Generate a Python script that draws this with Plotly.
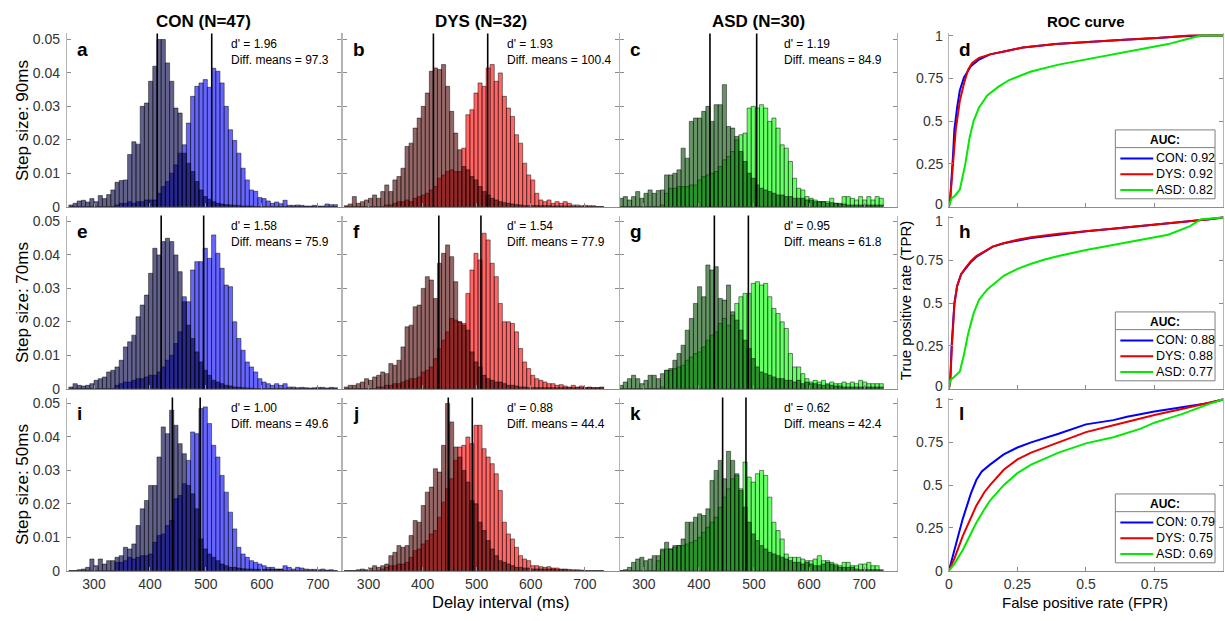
import plotly.graph_objects as go

W, H = 1225, 621

# ---------------- data ----------------
BIN_START, BIN_WIDTH, N_BINS = 255.0, 7.5, 64
bin_centers = [BIN_START + BIN_WIDTH * (i + 0.5) for i in range(N_BINS)]

groups = ["CON", "DYS", "ASD"]
group_n = [47, 32, 30]
steps = [90, 70, 50]
panel_letters = [["a", "b", "c", "d"], ["e", "f", "g", "h"], ["i", "j", "k", "l"]]

dprime = [["1.96", "1.93", "1.19"], ["1.58", "1.54", "0.95"], ["1.00", "0.88", "0.62"]]
diff_means = [["97.3", "100.4", "84.9"], ["75.9", "77.9", "61.8"], ["49.6", "44.4", "42.4"]]
mean_short = [[413.0, 420.0, 420.0], [420.0, 430.0, 428.0], [440.0, 447.5, 443.0]]
mean_long = [[510.3, 520.4, 504.9], [495.9, 507.9, 489.8], [489.6, 491.9, 485.4]]
auc = [["0.92", "0.92", "0.82"], ["0.88", "0.88", "0.77"], ["0.79", "0.75", "0.69"]]

hist_ticks = [300, 400, 500, 600, 700]
hist_yticks = [0, 0.01, 0.02, 0.03, 0.04, 0.05]
hist_yticktext = ["0", "0.01", "0.02", "0.03", "0.04", "0.05"]
roc_ticks = [0, 0.25, 0.5, 0.75, 1]
roc_ticktext = ["0", "0.25", "0.5", "0.75", "1"]

# histogram heights (probability per bin); "short" = darker series, "long" = bright series
con90_short = [0.0005, 0.001, 0.0017, 0.0019, 0.0014, 0.0024, 0.0015, 0.0033, 0.0024, 0.0036,
               0.005, 0.0073, 0.0078, 0.008, 0.0156, 0.0194, 0.0187, 0.030, 0.031, 0.0375,
               0.042, 0.050, 0.050, 0.043, 0.0375, 0.0295, 0.028, 0.016, 0.013, 0.0105,
               0.0075, 0.005, 0.003, 0.0022, 0.0015, 0.001, 0.0008, 0.0006, 0.0005, 0.0004,
               0.0003, 0.0002, 0.0002, 0.0002, 0, 0, 0, 0, 0, 0,
               0, 0, 0, 0, 0, 0, 0, 0, 0, 0,
               0, 0, 0, 0]
con90_long = [0, 0, 0, 0, 0, 0, 0, 0, 0, 0,
              0, 0.0005, 0.001, 0.001, 0.0015, 0.001, 0.0015, 0.0015, 0.002, 0.002,
              0.002, 0.004, 0.006, 0.0075, 0.010, 0.0125, 0.016, 0.0185, 0.025, 0.033,
              0.036, 0.037, 0.038, 0.0357, 0.0414, 0.0405, 0.037, 0.030, 0.023, 0.0198,
              0.016, 0.0115, 0.008, 0.005, 0.0046, 0.0027, 0.0024, 0.0017, 0.001, 0.0014,
              0.0009, 0.0019, 0.0004, 0.0004, 0.0005, 0.0004, 0.0002, 0.0002, 0.0004, 0.0002,
              0.0002, 0.0008, 0.0006, 0.0006]
con70_short = [0.0005, 0.0015, 0.001, 0.0008, 0.001, 0.0015, 0.0025, 0.003, 0.0035, 0.005,
               0.0055, 0.0065, 0.0085, 0.0125, 0.014, 0.016, 0.0215, 0.025, 0.028, 0.0345,
               0.042, 0.040, 0.044, 0.045, 0.044, 0.040, 0.035, 0.026, 0.019, 0.015,
               0.011, 0.008, 0.0055, 0.004, 0.0025, 0.002, 0.0015, 0.001, 0.0008, 0.0005,
               0.0004, 0.0003, 0.0002, 0.0002, 0, 0, 0, 0, 0, 0,
               0, 0, 0, 0, 0, 0, 0, 0, 0, 0,
               0, 0, 0, 0]
con70_long = [0, 0, 0, 0, 0, 0, 0, 0, 0, 0,
              0, 0.001, 0.0015, 0.002, 0.002, 0.0025, 0.003, 0.003, 0.0035, 0.004,
              0.004, 0.005, 0.0065, 0.0085, 0.010, 0.0135, 0.017, 0.0275, 0.026, 0.0355,
              0.038, 0.038, 0.042, 0.039, 0.046, 0.0405, 0.036, 0.031, 0.0305, 0.020,
              0.015, 0.0115, 0.008, 0.0065, 0.005, 0.003, 0.002, 0.0015, 0.001, 0.0015,
              0.001, 0.0015, 0.0005, 0.0005, 0.0003, 0.0004, 0.0003, 0.0002, 0.0003, 0.0004,
              0.0004, 0.0002, 0.0004, 0.0003]
con50_short = [0, 0, 0.0003, 0.0005, 0.001, 0.0035, 0.0015, 0.0035, 0.002, 0.003,
               0.003, 0.004, 0.0045, 0.007, 0.0065, 0.008, 0.0135, 0.0185, 0.021, 0.0255,
               0.0255, 0.034, 0.043, 0.041, 0.048, 0.0435, 0.038, 0.035, 0.0255, 0.023,
               0.0185, 0.0095, 0.0065, 0.005, 0.004, 0.003, 0.002, 0.0015, 0.001, 0.001,
               0.0008, 0.0006, 0.0005, 0.0005, 0.0004, 0.0004, 0.0004, 0.0004, 0.0004, 0.0004,
               0.0004, 0, 0, 0, 0, 0, 0, 0, 0, 0,
               0, 0, 0, 0]
con50_long = [0, 0, 0, 0, 0, 0, 0, 0, 0, 0,
              0, 0.0025, 0.0025, 0.003, 0.004, 0.0035, 0.004, 0.0045, 0.0045, 0.005,
              0.0085, 0.0105, 0.011, 0.0135, 0.015, 0.0215, 0.0225, 0.026, 0.033, 0.0415,
              0.041, 0.0485, 0.049, 0.044, 0.0375, 0.034, 0.0285, 0.0235, 0.0175, 0.0125,
              0.007, 0.005, 0.004, 0.003, 0.0025, 0.002, 0.0015, 0.001, 0.001, 0.0005,
              0.0005, 0.0015, 0.001, 0.0005, 0.001, 0.0008, 0.0005, 0.0004, 0.0004, 0.0003,
              0.0005, 0.0002, 0.0003, 0]

dys90_short = [0.0003, 0.0008, 0.003, 0.001, 0.0015, 0.002, 0.0025, 0.0035, 0.0025, 0.0045,
               0.0065, 0.0045, 0.008, 0.009, 0.0115, 0.018, 0.019, 0.0235, 0.0265, 0.030,
               0.034, 0.0405, 0.0415, 0.041, 0.0425, 0.036, 0.0285, 0.022, 0.017, 0.012,
               0.011, 0.009, 0.008, 0.006, 0.0045, 0.0035, 0.0025, 0.002, 0.0015, 0.0012,
               0.001, 0.0008, 0.0006, 0.0005, 0.0003, 0.0003, 0.0003, 0.0003, 0.0003, 0.0003,
               0.0003, 0.0002, 0.0002, 0.0002, 0.0002, 0.0002, 0, 0, 0, 0,
               0, 0, 0, 0]
dys90_long = [0, 0, 0, 0, 0, 0, 0, 0, 0, 0,
              0.0005, 0.0005, 0.001, 0.0015, 0.0015, 0.002, 0.0015, 0.0025, 0.003, 0.0035,
              0.004, 0.005, 0.006, 0.0085, 0.0095, 0.0105, 0.011, 0.0105, 0.0105, 0.0175,
              0.0275, 0.029, 0.034, 0.037, 0.036, 0.0415, 0.0425, 0.0375, 0.040, 0.033,
              0.0295, 0.027, 0.0215, 0.019, 0.013, 0.0095, 0.008, 0.004, 0.002, 0.0015,
              0.002, 0.001, 0.0015, 0.001, 0.0015, 0.001, 0.0005, 0.0005, 0.0003, 0.0004,
              0.0003, 0.0003, 0, 0]
dys70_short = [0.0005, 0.001, 0.001, 0.0015, 0.002, 0.003, 0.0025, 0.0035, 0.004, 0.005,
               0.0045, 0.0075, 0.007, 0.0085, 0.0125, 0.0185, 0.019, 0.0245, 0.025, 0.030,
               0.0335, 0.0325, 0.027, 0.0375, 0.0405, 0.043, 0.0395, 0.032, 0.020, 0.019,
               0.0175, 0.011, 0.008, 0.0065, 0.004, 0.003, 0.0025, 0.002, 0.002, 0.0015,
               0.001, 0.001, 0.0008, 0.0005, 0.0005, 0.0003, 0.0003, 0.0003, 0.0003, 0.0003,
               0.0003, 0.0003, 0.0003, 0.0003, 0.0003, 0.0003, 0.0003, 0.0003, 0.0003, 0.0003,
               0.0003, 0.0003, 0.0003, 0.0003]
dys70_long = [0, 0, 0, 0, 0, 0, 0, 0, 0.0005, 0.0005,
              0.001, 0.001, 0.0015, 0.0015, 0.002, 0.0025, 0.003, 0.003, 0.0035, 0.005,
              0.0055, 0.0065, 0.009, 0.012, 0.0145, 0.017, 0.021, 0.0205, 0.020, 0.0195,
              0.0285, 0.0355, 0.0405, 0.0385, 0.0465, 0.0445, 0.0375, 0.0335, 0.0255, 0.020,
              0.020, 0.0195, 0.017, 0.012, 0.008, 0.006, 0.004, 0.003, 0.0025, 0.002,
              0.0015, 0.0015, 0.001, 0.0012, 0.0008, 0.0005, 0.001, 0.0005, 0.0008, 0.0003,
              0.0005, 0.0003, 0.0003, 0.0005]
dys50_short = [0, 0, 0, 0.0003, 0.0005, 0.0003, 0.0008, 0.0015, 0.001, 0.0015,
               0.002, 0.0045, 0.0055, 0.0075, 0.007, 0.0075, 0.0105, 0.015, 0.0145, 0.0195,
               0.0235, 0.025, 0.0305, 0.0295, 0.0375, 0.050, 0.0445, 0.037, 0.034, 0.030,
               0.0265, 0.021, 0.020, 0.0145, 0.012, 0.009, 0.0065, 0.0045, 0.003, 0.0025,
               0.002, 0.0015, 0.001, 0.001, 0.0008, 0.0008, 0.0005, 0.0005, 0.0005, 0.0005,
               0.0005, 0.0005, 0.0003, 0.0003, 0.0003, 0, 0, 0, 0, 0,
               0, 0, 0, 0]
dys50_long = [0, 0, 0, 0, 0, 0, 0, 0, 0, 0.0005,
              0.001, 0.0015, 0.0015, 0.002, 0.002, 0.0025, 0.004, 0.006, 0.0065, 0.008,
              0.009, 0.011, 0.012, 0.016, 0.0205, 0.0245, 0.0275, 0.033, 0.037, 0.0375,
              0.040, 0.038, 0.0435, 0.0435, 0.0365, 0.034, 0.032, 0.029, 0.024, 0.0145,
              0.011, 0.0095, 0.007, 0.0045, 0.0035, 0.003, 0.0015, 0.0015, 0.0012, 0.001,
              0.0012, 0.0008, 0.0008, 0.0005, 0.0005, 0.0004, 0.0003, 0.0003, 0.0002, 0,
              0, 0, 0, 0]

asd90_short = [0.0025, 0.003, 0.002, 0.003, 0.0045, 0.0025, 0.004, 0.005, 0.004, 0.0048,
               0.005, 0.0095, 0.0095, 0.010, 0.011, 0.0175, 0.0145, 0.0255, 0.0265, 0.0265,
               0.0285, 0.030, 0.0255, 0.0305, 0.0305, 0.0365, 0.024, 0.0235, 0.021, 0.0165,
               0.0135, 0.010, 0.0085, 0.0065, 0.0055, 0.005, 0.0045, 0.004, 0.0035, 0.0035,
               0.003, 0.003, 0.0025, 0.0025, 0.0025, 0.002, 0.002, 0.0015, 0.0015, 0.0015,
               0.001, 0.0012, 0.001, 0.0008, 0.0008, 0.0005, 0.0005, 0.0005, 0.0005, 0.0005,
               0.0005, 0.0005, 0.0005, 0.0005]
asd90_long = [0, 0, 0, 0, 0, 0, 0, 0, 0, 0,
              0.0005, 0.004, 0.0055, 0.0055, 0.006, 0.006, 0.006, 0.0065, 0.0065, 0.008,
              0.009, 0.0095, 0.010, 0.0105, 0.012, 0.014, 0.015, 0.0165, 0.020, 0.0215,
              0.022, 0.0295, 0.030, 0.0295, 0.0305, 0.0295, 0.0255, 0.0265, 0.0235, 0.0185,
              0.0175, 0.0135, 0.0085, 0.0055, 0.005, 0.003, 0.0025, 0.002, 0.0015, 0.0015,
              0.0015, 0.0025, 0.001, 0.001, 0.003, 0.003, 0.0025, 0.002, 0.003, 0.002,
              0.003, 0.002, 0.003, 0.0025]
asd70_short = [0.001, 0.002, 0.003, 0.004, 0.003, 0.0015, 0.0025, 0.004, 0.004, 0.003,
               0.0045, 0.0055, 0.006, 0.0085, 0.0105, 0.013, 0.0175, 0.021, 0.0255, 0.0305,
               0.0275, 0.037, 0.0355, 0.0365, 0.027, 0.0265, 0.031, 0.023, 0.0205, 0.0175,
               0.0145, 0.012, 0.009, 0.0065, 0.005, 0.0045, 0.004, 0.0035, 0.003, 0.003,
               0.0025, 0.0025, 0.002, 0.0025, 0.0015, 0.002, 0.0015, 0.0015, 0.0012, 0.001,
               0.0012, 0.001, 0.0008, 0.0008, 0.0005, 0.0005, 0.0005, 0.0005, 0.0005, 0.0005,
               0.0005, 0.0005, 0.0005, 0.0005]
asd70_long = [0, 0, 0, 0, 0, 0, 0, 0, 0, 0,
              0.0005, 0.0055, 0.0055, 0.006, 0.0065, 0.007, 0.0085, 0.0095, 0.0105, 0.011,
              0.0125, 0.0145, 0.016, 0.017, 0.0195, 0.021, 0.019, 0.022, 0.0255, 0.0275,
              0.0285, 0.0285, 0.0315, 0.032, 0.031, 0.0315, 0.0275, 0.024, 0.0225, 0.020,
              0.018, 0.0105, 0.0065, 0.0065, 0.0045, 0.003, 0.002, 0.0025, 0.002, 0.0025,
              0.0015, 0.002, 0.0015, 0.0015, 0.002, 0.0015, 0.002, 0.0015, 0.0025, 0.002,
              0.0015, 0.0015, 0.0015, 0.0015]
asd50_short = [0, 0.0003, 0.001, 0.0025, 0.0035, 0.004, 0.003, 0.0035, 0.0045, 0.0045,
               0.0065, 0.0085, 0.0065, 0.0075, 0.0075, 0.0095, 0.0145, 0.0145, 0.016, 0.017,
               0.0165, 0.0185, 0.027, 0.030, 0.033, 0.0275, 0.0357, 0.033, 0.029, 0.024,
               0.019, 0.0145, 0.011, 0.009, 0.0075, 0.0065, 0.0055, 0.005, 0.0045, 0.004,
               0.0035, 0.003, 0.0025, 0.0025, 0.002, 0.0025, 0.002, 0.0015, 0.0015, 0.002,
               0.0025, 0.002, 0.0015, 0.001, 0.001, 0.001, 0.001, 0.0005, 0.0003, 0.0003,
               0.0003, 0.0003, 0.0003, 0.0003]
asd50_long = [0, 0, 0, 0, 0, 0, 0, 0, 0, 0.003,
              0.006, 0.0065, 0.0065, 0.007, 0.0075, 0.0075, 0.008, 0.0085, 0.009, 0.010,
              0.0115, 0.013, 0.0145, 0.016, 0.019, 0.022, 0.0245, 0.0275, 0.0285, 0.0245,
              0.0325, 0.028, 0.0265, 0.029, 0.030, 0.0285, 0.022, 0.0145, 0.012, 0.0095,
              0.005, 0.004, 0.004, 0.004, 0.0035, 0.003, 0.003, 0.0035, 0.0045, 0.003,
              0.003, 0.0025, 0.002, 0.0015, 0.0025, 0.0025, 0.0015, 0.0015, 0.002, 0.002,
              0.0025, 0.0015, 0.0015, 0]

hist_short = [[con90_short, dys90_short, asd90_short],
              [con70_short, dys70_short, asd70_short],
              [con50_short, dys50_short, asd50_short]]
hist_long = [[con90_long, dys90_long, asd90_long],
             [con70_long, dys70_long, asd70_long],
             [con50_long, dys50_long, asd50_long]]

# ROC curves (FPR, TPR)
roc_con90_fpr = [0, 0.005, 0.015, 0.02, 0.03, 0.04, 0.055, 0.08, 0.11, 0.15, 0.21, 0.27, 0.39, 0.52, 0.64, 0.76, 0.84, 0.93, 1]
roc_con90_tpr = [0, 0.05, 0.3, 0.45, 0.58, 0.68, 0.755, 0.82, 0.86, 0.89, 0.91, 0.93, 0.95, 0.965, 0.975, 0.985, 0.995, 1.0, 1]
roc_dys90_fpr = [0, 0.005, 0.015, 0.025, 0.04, 0.055, 0.07, 0.085, 0.11, 0.15, 0.21, 0.27, 0.39, 0.52, 0.64, 0.76, 0.84, 0.88, 1]
roc_dys90_tpr = [0, 0.05, 0.25, 0.45, 0.62, 0.72, 0.8, 0.84, 0.87, 0.89, 0.91, 0.93, 0.95, 0.965, 0.975, 0.985, 0.995, 1.0, 1]
roc_asd90_fpr = [0, 0.01, 0.02, 0.04, 0.06, 0.075, 0.09, 0.11, 0.14, 0.18, 0.22, 0.3, 0.4, 0.5, 0.6, 0.7, 0.8, 0.87, 0.92, 1]
roc_asd90_tpr = [0, 0.05, 0.06, 0.1, 0.25, 0.4, 0.5, 0.58, 0.65, 0.7, 0.74, 0.79, 0.83, 0.86, 0.89, 0.92, 0.95, 0.98, 1.0, 1]

roc_con70_fpr = [0, 0.005, 0.01, 0.015, 0.02, 0.03, 0.045, 0.06, 0.08, 0.1, 0.13, 0.16, 0.2, 0.25, 0.3, 0.4, 0.5, 0.6, 0.7, 0.8, 0.9, 0.95, 1]
roc_con70_tpr = [0, 0.05, 0.25, 0.4, 0.5, 0.6, 0.67, 0.7, 0.74, 0.77, 0.8, 0.83, 0.85, 0.865, 0.88, 0.9, 0.92, 0.935, 0.95, 0.965, 0.98, 0.99, 1]
roc_dys70_fpr = [0, 0.005, 0.01, 0.015, 0.02, 0.03, 0.045, 0.06, 0.08, 0.1, 0.13, 0.16, 0.2, 0.25, 0.3, 0.4, 0.5, 0.6, 0.7, 0.8, 0.9, 0.95, 1]
roc_dys70_tpr = [0, 0.04, 0.22, 0.38, 0.49, 0.6, 0.67, 0.705, 0.745, 0.775, 0.805, 0.83, 0.85, 0.87, 0.885, 0.905, 0.92, 0.935, 0.95, 0.965, 0.98, 0.99, 1]
roc_asd70_fpr = [0, 0.005, 0.02, 0.04, 0.055, 0.07, 0.09, 0.11, 0.14, 0.17, 0.2, 0.25, 0.3, 0.35, 0.4, 0.5, 0.6, 0.7, 0.8, 0.88, 0.92, 1]
roc_asd70_tpr = [0, 0.05, 0.07, 0.1, 0.2, 0.32, 0.44, 0.52, 0.58, 0.62, 0.66, 0.7, 0.73, 0.755, 0.775, 0.81, 0.84, 0.87, 0.9, 0.95, 0.99, 1]

roc_con50_fpr = [0, 0.02, 0.05, 0.08, 0.1, 0.12, 0.15, 0.2, 0.25, 0.3, 0.4, 0.5, 0.6, 0.65, 0.75, 0.85, 0.95, 1]
roc_con50_tpr = [0, 0.12, 0.3, 0.45, 0.53, 0.58, 0.62, 0.68, 0.72, 0.75, 0.8, 0.855, 0.88, 0.9, 0.93, 0.955, 0.98, 1]
roc_dys50_fpr = [0, 0.02, 0.05, 0.08, 0.1, 0.13, 0.15, 0.2, 0.25, 0.3, 0.4, 0.5, 0.6, 0.7, 0.75, 0.85, 0.95, 1]
roc_dys50_tpr = [0, 0.07, 0.2, 0.31, 0.38, 0.46, 0.5, 0.59, 0.65, 0.69, 0.75, 0.81, 0.85, 0.89, 0.91, 0.945, 0.98, 1]
roc_asd50_fpr = [0, 0.02, 0.05, 0.08, 0.1, 0.13, 0.15, 0.2, 0.25, 0.3, 0.4, 0.5, 0.6, 0.7, 0.75, 0.8, 0.85, 0.95, 1]
roc_asd50_tpr = [0, 0.04, 0.12, 0.22, 0.28, 0.36, 0.41, 0.5, 0.57, 0.62, 0.69, 0.744, 0.78, 0.83, 0.865, 0.89, 0.915, 0.975, 1]

roc_data = [[(roc_con90_fpr, roc_con90_tpr), (roc_dys90_fpr, roc_dys90_tpr), (roc_asd90_fpr, roc_asd90_tpr)],
            [(roc_con70_fpr, roc_con70_tpr), (roc_dys70_fpr, roc_dys70_tpr), (roc_asd70_fpr, roc_asd70_tpr)],
            [(roc_con50_fpr, roc_con50_tpr), (roc_dys50_fpr, roc_dys50_tpr), (roc_asd50_fpr, roc_asd50_tpr)]]

# ---------------- styling ----------------
FONT = "Liberation Sans, Arial, Helvetica, sans-serif"
bright_col = ["rgba(0,0,255,0.6)", "rgba(255,0,0,0.6)", "rgba(0,255,0,0.6)"]
dark_col = ["rgba(0,0,70,0.62)", "rgba(77,0,0,0.6)", "rgba(0,77,0,0.6)"]
roc_col = ["rgb(0,0,255)", "rgb(230,0,0)", "rgb(0,235,0)"]
EDGE = dict(color="rgba(0,0,0,0.8)", width=0.6)
AXC_Y = "#b4b4b4"
AXC_X = "#8c8c8c"
TICKFONT = dict(family=FONT, size=14, color="#333333")

cols_px = [(63, 338), (340, 617), (618, 896), (948, 1223)]
rows_px = [(32, 208), (217, 393), (402, 578)]
hist_xrange = [(251.4, 741.0), (252.6, 763.2), (256.5, 760.0)]
HIST_YMAX = 0.0518
ROC_YMAX = 1.012


def px(x):
    return x / W


def py(y):
    return 1 - y / H


fig = go.Figure()
layout = {}
shapes = []
annotations = []


def ann(text, x, y, size, bold=False, xanchor="center", angle=0, color="black", family=FONT):
    annotations.append(dict(text=("<b>%s</b>" % text) if bold else text, x=px(x), y=py(y),
                            xref="paper", yref="paper", showarrow=False, xanchor=xanchor,
                            yanchor="middle", textangle=angle, borderpad=0,
                            font=dict(family=family, size=size, color=color)))


for r in range(3):
    y_top, y_bot = rows_px[r]
    for c in range(4):
        k = r * 4 + c + 1
        s = "" if k == 1 else str(k)
        x_l, x_r = cols_px[c]
        xa = dict(domain=[px(x_l), px(x_r)], anchor="y" + s, showgrid=False, zeroline=False,
                  showline=True, linecolor=AXC_X, linewidth=1, ticks="inside", ticklen=4,
                  tickcolor=AXC_X, tickfont=TICKFONT, showticklabels=(r == 2),
                  ticklabelstandoff=1)
        ya = dict(domain=[py(y_bot), py(y_top)], anchor="x" + s, showgrid=False, zeroline=False,
                  showline=True, linecolor=AXC_Y, linewidth=1, ticks="inside", ticklen=4,
                  tickcolor=AXC_X, tickfont=TICKFONT, mirror="ticks", ticklabelstandoff=3)
        if c < 3:
            xa.update(range=list(hist_xrange[c]), tickmode="array", tickvals=hist_ticks)
            ya.update(range=[0, HIST_YMAX], tickmode="array", tickvals=hist_yticks,
                      ticktext=hist_yticktext, showticklabels=(c == 0))
            # bright (long-delay) first, darker series on top
            fig.add_trace(go.Bar(x=bin_centers, y=hist_long[r][c], width=BIN_WIDTH,
                                 marker=dict(color=bright_col[c], line=EDGE),
                                 xaxis="x" + s, yaxis="y" + s, showlegend=False, hoverinfo="skip"))
            fig.add_trace(go.Bar(x=bin_centers, y=hist_short[r][c], width=BIN_WIDTH,
                                 marker=dict(color=dark_col[c], line=EDGE),
                                 xaxis="x" + s, yaxis="y" + s, showlegend=False, hoverinfo="skip"))
            for m in (mean_short[r][c], mean_long[r][c]):
                shapes.append(dict(type="line", xref="x" + s, yref="y" + s + " domain",
                                   x0=m, x1=m, y0=0, y1=1, layer="above",
                                   line=dict(color="black", width=1.6)))
            ann("d' = " + dprime[r][c], x_l + 164, y_top + 11, 12, xanchor="left")
            ann("Diff. means = " + diff_means[r][c], x_l + 164, y_top + 27, 12, xanchor="left")
        else:
            xa.update(range=[0, 1], tickmode="array", tickvals=roc_ticks, ticktext=roc_ticktext)
            ya.update(range=[0, ROC_YMAX], tickmode="array", tickvals=roc_ticks,
                      showticklabels=False)
            # y tick labels drawn as text next to the ticks; end labels of stacked panels
            # are nudged apart slightly so they do not collide
            for v, t in zip(roc_ticks, roc_ticktext):
                ty = y_bot - v / ROC_YMAX * (y_bot - y_top)
                if v == 0 and r < 2:
                    ty -= 3
                if v == 1 and r > 0:
                    ty += 3
                ann(t, x_l - 5, ty, 14, xanchor="right", color="#333333")
            for g in range(3):
                fpr, tpr = roc_data[r][g]
                fig.add_trace(go.Scatter(x=fpr, y=tpr, mode="lines",
                                         line=dict(color=roc_col[g], width=2),
                                         xaxis="x" + s, yaxis="y" + s, showlegend=False,
                                         hoverinfo="skip"))
            # AUC legend box
            bx0, bx1 = x_r - 108, x_r - 8
            by0, by1 = y_bot - 78, y_bot - 8
            shapes.append(dict(type="rect", xref="paper", yref="paper", x0=px(bx0), x1=px(bx1),
                               y0=py(by1), y1=py(by0), line=dict(color="#7f7f7f", width=1),
                               fillcolor="white", layer="above"))
            shapes.append(dict(type="line", xref="paper", yref="paper", x0=px(bx0), x1=px(bx1),
                               y0=py(by0 + 18), y1=py(by0 + 18),
                               line=dict(color="#7f7f7f", width=1), layer="above"))
            ann("AUC:", (bx0 + bx1) / 2, by0 + 10, 12, bold=True)
            for g in range(3):
                ey = by0 + 29 + 16 * g
                shapes.append(dict(type="line", xref="paper", yref="paper",
                                   x0=px(bx0 + 5), x1=px(bx0 + 38), y0=py(ey), y1=py(ey),
                                   line=dict(color=roc_col[g], width=2), layer="above"))
                ann("%s: %s" % (groups[g], auc[r][g]), bx0 + 40, ey, 12.5, xanchor="left")
        layout["xaxis" + s] = xa
        layout["yaxis" + s] = ya
        ann(panel_letters[r][c], x_l + 9, y_top + 16, 19, bold=True, xanchor="left")
    ann("Step size: %dms" % steps[r], 18, (y_top + y_bot) / 2, 17, angle=-90)

# column titles
for c in range(3):
    ann("%s (N=%d)" % (groups[c], group_n[c]), (cols_px[c][0] + cols_px[c][1]) / 2, 20, 17, bold=True)
ann("ROC curve", (cols_px[3][0] + cols_px[3][1]) / 2, 20, 15, bold=True)

ann("Delay interval (ms)", 499, 610, 16.5)
ann("False positive rate (FPR)", 1085, 610, 15)
ann("True positive rate (TPR)", 904, 303, 15, angle=-90)

fig.update_layout(**layout)
fig.update_layout(width=W, height=H, autosize=False, margin=dict(l=0, r=0, t=0, b=0),
                  paper_bgcolor="white", plot_bgcolor="white", barmode="overlay",
                  font=dict(family=FONT, size=13, color="black"),
                  shapes=shapes, annotations=annotations, showlegend=False)

fig.write_html("out.html",
               config={"displayModeBar": False, "staticPlot": True},
               post_script="document.body.style.margin='0px';document.body.style.padding='0px';"
                           "document.documentElement.style.overflow='hidden';")
